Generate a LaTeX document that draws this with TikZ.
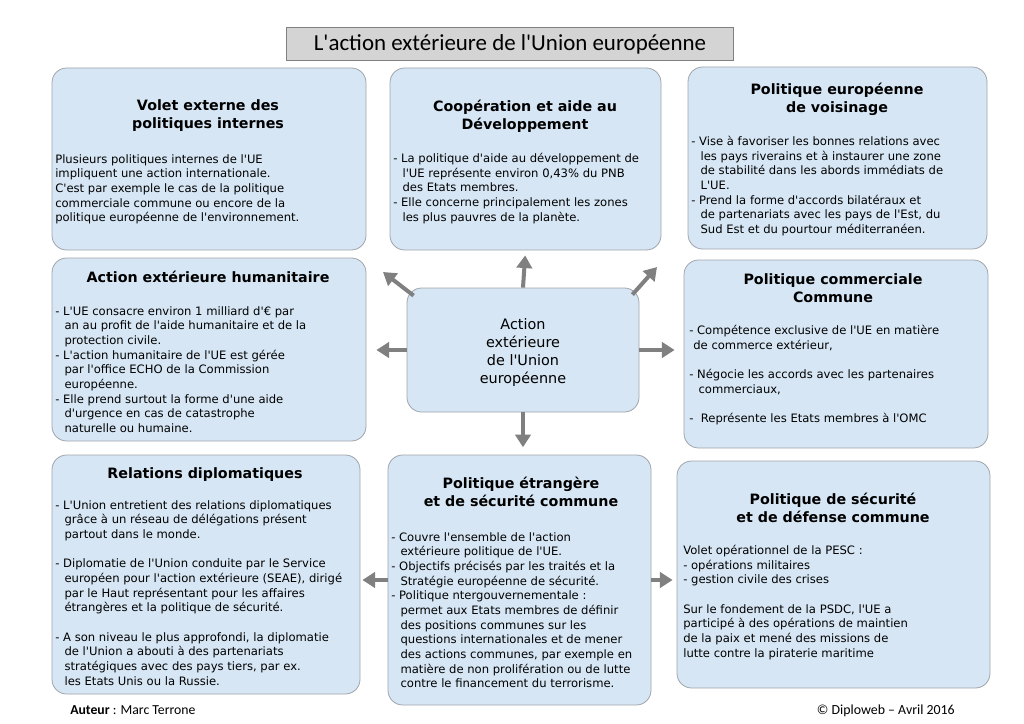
\documentclass[tikz,border=0pt]{standalone}
\usepackage{fontspec}
\setmainfont{DejaVu Sans}[Ligatures=TeXOff]
\newfontfamily\titlefont{Carlito}[Ligatures=TeXOff]
\usepackage{xcolor}
\usepackage{tikz}
\usetikzlibrary{arrows.meta, positioning, fit, calc}
\definecolor{boxblue}{RGB}{214, 230, 244}
\definecolor{boxgray}{RGB}{160, 164, 170}
\definecolor{arrowgray}{RGB}{128, 128, 128}
\definecolor{titlegray}{RGB}{212, 212, 212}
\newcommand{\ind}{\hspace*{0.8em}}

\begin{document}
\begin{tikzpicture}[x=0.75pt, y=-0.75pt,
    box/.style={draw=boxgray, rounded corners=11pt, fill=boxblue, inner sep=0pt, line width=0.6pt},
    heading/.style={anchor=north, align=center, inner sep=0pt, font=\bfseries\fontsize{10.7}{13.5}\selectfont},
    body/.style={anchor=north west, align=left, inner sep=0pt, font=\fontsize{8.7}{11}\selectfont},
    arrow/.style={draw=arrowgray, line width=3pt, -{Triangle[width=11.5pt, length=9.5pt]}}
]
    \useasboundingbox (0,0) rectangle (1024,724);

    % titre
    \node[fit={(286,27) (733,60)}, inner sep=0pt, draw=gray, fill=titlegray] (titre) {};
    \node[font=\titlefont\fontsize{17.2}{20}\selectfont, inner sep=0pt] (titre-t) at (510,44)
        {L'action extérieure de l'Union européenne};

    % cadres
    \node[box, fit={(52,68) (366,250)}] (volet) {};
    \node[box, fit={(390,68) (661,250)}] (cooperation) {};
    \node[box, fit={(688,67) (987,249)}] (voisinage) {};
    \node[box, fit={(52,258) (366,441)}] (humanitaire) {};
    \node[box, fit={(407,288) (639,412)}] (centre) {};
    \node[box, fit={(684,260) (988,448)}] (commerciale) {};
    \node[box, fit={(52,455) (360,694)}] (diplomatie) {};
    \node[box, fit={(388,455) (651,705)}] (pesc) {};
    \node[box, fit={(677,461) (990,688)}] (psdc) {};

    % fleches
    \coordinate (hautgauche) at (383,272);
    \coordinate (hautdroite) at (657,267);
    \draw[arrow, shorten >=3.75pt] (centre.north) -- (cooperation.south);
    \draw[arrow] ($(centre.north west)+(7,8)$) -- (hautgauche);
    \draw[arrow] ($(centre.north east)+(-7,7)$) -- (hautdroite);
    \draw[arrow, shorten >=7.5pt] (centre.west) -- (centre.west -| humanitaire.east);
    \draw[arrow, shorten >=6.75pt] (centre.east) -- (centre.east -| commerciale.west);
    \draw[arrow, shorten >=5.5pt] (centre.south) -- (centre.south |- pesc.north);
    \draw[arrow, shorten >=1.5pt] (pesc.west) -- (pesc.west -| diplomatie.east);
    \draw[arrow, shorten >=3pt] (pesc.east) -- (pesc.east -| psdc.west);

    % textes
    \node[align=center, inner sep=0pt, font=\fontsize{10.8}{13.5}\selectfont]
        (centre-t) at (523,353) {Action\\extérieure\\de l'Union\\européenne};

    \node[heading] (volet-t) at (208,99) {Volet externe des\\politiques internes};
    \node[body] (volet-b) at (55,154) {Plusieurs politiques internes de l'UE\\
        impliquent une action internationale.\\
        C'est par exemple le cas de la politique\\
        commerciale commune ou encore de la\\
        politique européenne de l'environnement.};

    \node[heading] (cooperation-t) at (525,100) {Coopération et aide au\\Développement};
    \node[body] (cooperation-b) at (393,153) {- La politique d'aide au développement de\\
        \ind l'UE représente environ 0,43\% du PNB\\
        \ind des Etats membres.\\
        - Elle concerne principalement les zones\\
        \ind les plus pauvres de la planète.};

    \node[heading] (voisinage-t) at (837,83) {Politique européenne\\de voisinage};
    \node[body] (voisinage-b) at (691,136) {- Vise à favoriser les bonnes relations avec\\
        \ind les pays riverains et à instaurer une zone\\
        \ind de stabilité dans les abords immédiats de\\
        \ind L'UE.\\
        - Prend la forme d'accords bilatéraux et\\
        \ind de partenariats avec les pays de l'Est, du\\
        \ind Sud Est et du pourtour méditerranéen.};

    \node[heading] (humanitaire-t) at (208,271) {Action extérieure humanitaire};
    \node[body] (humanitaire-b) at (55,306) {- L'UE consacre environ 1 milliard d'€ par\\
        \ind an au profit de l'aide humanitaire et de la\\
        \ind protection civile.\\
        - L'action humanitaire de l'UE est gérée\\
        \ind par l'office ECHO de la Commission\\
        \ind européenne.\\
        - Elle prend surtout la forme d'une aide\\
        \ind d'urgence en cas de catastrophe\\
        \ind naturelle ou humaine.};

    \node[heading] (commerciale-t) at (833,273) {Politique commerciale\\Commune};
    \node[body] (commerciale-b) at (689,325) {- Compétence exclusive de l'UE en matière\\
        \hspace*{0.35em}de commerce extérieur,\\[11pt]
        - Négocie les accords avec les partenaires\\
        \ind commerciaux,\\[11pt]
        -\ \ Représente les Etats membres à l'OMC};

    \node[heading] (diplomatie-t) at (205,467) {Relations diplomatiques};
    \node[body] (diplomatie-b) at (55,500) {- L'Union entretient des relations diplomatiques\\
        \ind grâce à un réseau de délégations présent\\
        \ind partout dans le monde.\\[11pt]
        - Diplomatie de l'Union conduite par le Service\\
        \ind européen pour l'action extérieure (SEAE), dirigé\\
        \ind par le Haut représentant pour les affaires\\
        \ind étrangères et la politique de sécurité.\\[11pt]
        - A son niveau le plus approfondi, la diplomatie\\
        \ind de l'Union a abouti à des partenariats\\
        \ind stratégiques avec des pays tiers, par ex.\\
        \ind les Etats Unis ou la Russie.};

    \node[heading] (pesc-t) at (521,477) {Politique étrangère\\et de sécurité commune};
    \node[body] (pesc-b) at (391,532) {- Couvre l'ensemble de l'action\\
        \ind extérieure politique de l'UE.\\
        - Objectifs précisés par les traités et la\\
        \ind Stratégie européenne de sécurité.\\
        - Politique ntergouvernementale :\\
        \ind permet aux Etats membres de définir\\
        \ind des positions communes sur les\\
        \ind questions internationales et de mener\\
        \ind des actions communes, par exemple en\\
        \ind matière de non prolifération ou de lutte\\
        \ind contre le financement du terrorisme.};

    \node[heading] (psdc-t) at (833,493) {Politique de sécurité\\et de défense commune};
    \node[body] (psdc-b) at (683,545) {Volet opérationnel de la PESC :\\
        - opérations militaires\\
        - gestion civile des crises\\[11pt]
        Sur le fondement de la PSDC, l'UE a\\
        participé à des opérations de maintien\\
        de la paix et mené des missions de\\
        lutte contre la piraterie maritime};

    % pied de page
    \node[anchor=base west, inner sep=0pt, font=\titlefont\fontsize{10.3}{12}\selectfont]
        (auteur) at (70,714) {\textbf{Auteur} : Marc Terrone};
    \node[anchor=base east, inner sep=0pt, font=\titlefont\fontsize{10.4}{12}\selectfont]
        (source) at (955,714) {© Diploweb – Avril 2016};
\end{tikzpicture}
\end{document}
